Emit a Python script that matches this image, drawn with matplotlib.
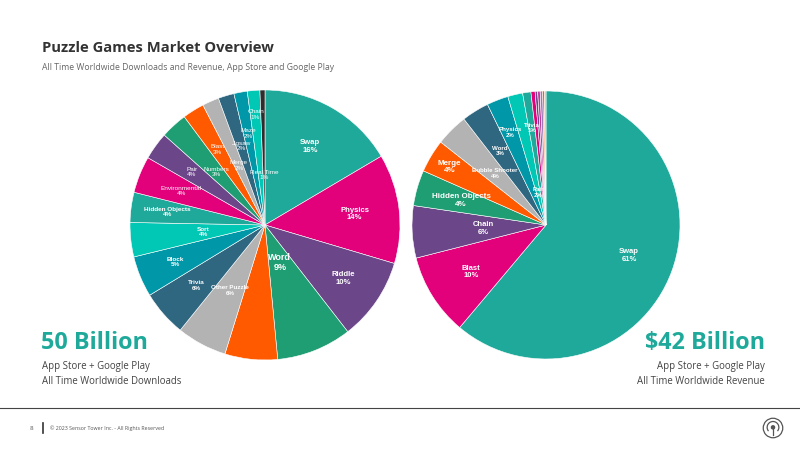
import numpy as np
import matplotlib.pyplot as plt
from matplotlib.patches import Circle, Arc

# --- data: subgenre shares (clockwise from 12 o'clock) ---
dl_genres = ['Swap', 'Physics', 'Riddle', 'Word', '', 'Other Puzzle', 'Trivia', 'Block',
             'Sort', 'Hidden Objects', 'Environmental', 'Pair', 'Numbers', 'Blast',
             'Merge', 'Jigsaw', 'Maze', 'Chain', 'Real Time']
dl_share = [16.5, 13.1, 9.9, 9.0, 6.3, 6.0, 5.5, 4.9, 4.1, 3.6, 4.4, 3.3, 3.2, 2.6,
            2.0, 1.9, 1.6, 1.5, 0.6]
dl_pct = ['16%', '14%', '10%', '9%', '', '6%', '6%', '5%', '4%', '4%', '4%', '4%', '3%',
          '3%', '2%', '2%', '2%', '1%', '1%']

rev_genres = ['Swap', 'Blast', 'Chain', 'Hidden Objects', 'Merge', 'Bubble Shooter',
              'Word', 'Physics', 'Pair', 'Trivia', '', '', '', '', '', '']
rev_share = [61.2, 9.9, 6.3, 4.3, 4.0, 3.9, 3.3, 2.6, 1.8, 1.0, 0.5, 0.3, 0.3, 0.3, 0.2, 0.2]
rev_pct = ['61%', '10%', '6%', '4%', '4%', '4%', '3%', '2%', '2%', '1%', '', '', '', '', '', '']

# --- styling ---
TEAL, PINK, PURP, GREEN = '#1fa99a', '#e2007b', '#6b4689', '#1f9d73'
ORANGE, GRAY, SLATE, TBLUE, AQUA = '#ff5a00', '#b3b3b3', '#2f6680', '#0098a8', '#00c8b4'

dl_colors = [TEAL, PINK, PURP, GREEN, ORANGE, GRAY, SLATE, TBLUE, AQUA, TEAL, PINK, PURP,
             GREEN, ORANGE, GRAY, SLATE, TBLUE, AQUA, '#2d2d2d']
rev_colors = [TEAL, PINK, PURP, GREEN, ORANGE, GRAY, SLATE, TBLUE, AQUA, TEAL,
              PINK, PURP, '#c2389c', '#9b7bb6', ORANGE, '#f2b38a']

dl_r = [0.67, 0.67, 0.70, 0.30, 0.5, 0.55, 0.68, 0.72, 0.46, 0.73, 0.67, 0.67, 0.53, 0.66,
        0.48, 0.61, 0.69, 0.82, 0.37]
dl_fs = [5.6, 5.6, 5.6, 6.5, 5, 4.5, 4.6, 4.6, 4.6, 4.6, 4.6, 4.6, 4.6, 4.6, 4.6, 4.6, 4.6,
         4.6, 4.6]
dl_bold = [1, 1, 1, 1, 0, 1, 1, 1, 1, 1, 0, 0, 0, 0, 0, 0, 0, 0, 0]

rev_r = [0.66, 0.66, 0.47, 0.66, 0.84, 0.54, 0.65, 0.74, 0.25, 0.73,
         0.5, 0.5, 0.5, 0.5, 0.5, 0.5]
rev_fs = [5.5, 5.5, 5.5, 5.8, 5.8, 4.4, 4.4, 4.4, 4.4, 4.4, 4, 4, 4, 4, 4, 4]

plt.rcParams['font.family'] = ['Liberation Sans', 'DejaVu Sans']
fig = plt.figure(figsize=(8, 4.5), dpi=100)
fig.patch.set_facecolor('white')


def px(x, y):
    return x / 800, 1 - y / 450


def draw_pie(rect, values, colors, names, pcts, radii, sizes, bold):
    ax = fig.add_axes(rect)
    wedges, _ = ax.pie(values, colors=colors, startangle=90, counterclock=False,
                       wedgeprops=dict(edgecolor='white', linewidth=0.4))
    ax.set_xlim(-1, 1)
    ax.set_ylim(-1, 1)
    ax.axis('off')
    for w, name, pct, r, fs, b in zip(wedges, names, pcts, radii, sizes, bold):
        if not name:
            continue
        mid = np.deg2rad((w.theta1 + w.theta2) / 2)
        ax.text(r * np.cos(mid), r * np.sin(mid), f'{name}\n{pct}', color='white',
                fontsize=fs, fontweight='bold' if b else 'normal',
                ha='center', va='center', linespacing=1.1)
    return ax


draw_pie([130 / 800, 90 / 450, 270 / 800, 270 / 450], dl_share, dl_colors,
         dl_genres, dl_pct, dl_r, dl_fs, dl_bold)
draw_pie([412 / 800, 91 / 450, 268 / 800, 268 / 450], rev_share, rev_colors,
         rev_genres, rev_pct, rev_r, rev_fs, [1] * len(rev_share))

head = ['Open Sans', 'DejaVu Sans']
fig.text(*px(42, 48), 'Puzzle Games Market Overview', fontsize=10.6, fontweight='bold',
         color='#333333', family=head, va='center')
fig.text(*px(42, 68), 'All Time Worldwide Downloads and Revenue, App Store and Google Play',
         fontsize=6.2, color='#666666', family=head, va='center')

fig.text(*px(41, 343), '50 Billion', fontsize=16.8, fontweight='bold', color=TEAL,
         family=head, va='center')
fig.text(*px(42, 366), 'App Store + Google Play', fontsize=6.9, color='#444444',
         family=head, va='center')
fig.text(*px(42, 381), 'All Time Worldwide Downloads', fontsize=6.9, color='#444444',
         family=head, va='center')

fig.text(*px(765, 343), '$42 Billion', fontsize=16.8, fontweight='bold', color=TEAL,
         family=head, va='center', ha='right')
fig.text(*px(765, 366), 'App Store + Google Play', fontsize=6.9, color='#444444',
         family=head, va='center', ha='right')
fig.text(*px(765, 381), 'All Time Worldwide Revenue', fontsize=6.9, color='#444444',
         family=head, va='center', ha='right')

# footer
fig.add_artist(plt.Line2D([0, 1], [1 - 408 / 450] * 2, color='#444444', lw=0.8))
fig.text(*px(30, 428), '8', fontsize=4.5, color='#555555', family=head, va='center')
fig.add_artist(plt.Line2D([43 / 800] * 2, [1 - 423 / 450, 1 - 433 / 450], color='#333333', lw=1.2))
fig.text(*px(50, 428), '© 2023 Sensor Tower Inc. - All Rights Reserved', fontsize=3.8,
         color='#555555', family=head, va='center')

lx = fig.add_axes([760 / 800, 1 - 441 / 450, 26 / 800, 26 / 450])
lx.set_xlim(-1, 1)
lx.set_ylim(-1, 1)
lx.set_aspect('equal')
lx.axis('off')
lx.add_patch(Circle((0, 0), 0.75, fill=False, ec='#555555', lw=0.9))
lx.add_patch(Arc((0, 0.05), 0.9, 0.9, theta1=-40, theta2=220, ec='#555555', lw=0.9))
lx.plot([0, 0], [-0.55, 0.05], color='#555555', lw=0.9)
lx.add_patch(Circle((0, 0.05), 0.12, color='#555555'))

fig.savefig('out.png', dpi=100)
